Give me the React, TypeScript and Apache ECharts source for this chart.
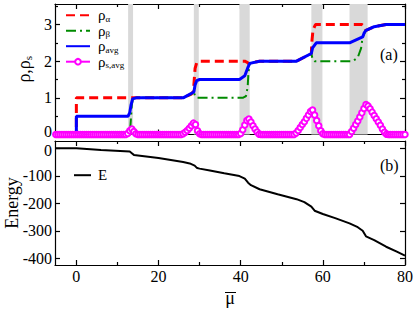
import React, { useEffect, useRef } from "react";
import * as echarts from "echarts";

const FONT = "'Liberation Serif', 'Times New Roman', 'DejaVu Serif', serif";

// tick positions
const X_MAJOR = [0, 20, 40, 60, 80];
const X_MINOR = [10, 30, 50, 70];
const RHO_TICKS = [0, 1, 2, 3];
const RHO_MINOR = [0.5, 1.5, 2.5, 3.5];
const E_TICKS = [0, -100, -200, -300, -400];

// shaded mu intervals (panel a)
const BANDS = [
  [12.6, 13.8],
  [28.6, 29.8],
  [39.7, 42.2],
  [57.2, 59.9],
  [66.5, 70.9],
];

// series: [mu, value]
const RHO_ALPHA = [
  [-5, 0], [0, 0], [0, 1], [26, 1], [28, 1.1], [28.5, 1.18], [28.7, 1.5], [28.9, 1.8], [29.3, 1.96], [29.8, 2],
  [41, 2], [41.6, 1.97], [42, 1.92], [42.5, 1.96], [44.6, 2], [53.6, 2], [57.2, 2.21], [57.3, 2.5],
  [57.6, 2.85], [58.2, 3], [69.5, 3], [70.1, 2.95], [70.5, 2.84], [72.5, 2.94], [75.4, 3], [80, 3],
];

const RHO_BETA = [
  [-5, 0], [13, 0], [13.2, 0.3], [13.5, 0.8], [13.8, 1], [26, 1], [28, 1.1], [28.6, 1.15], [28.9, 1.05],
  [29.4, 1], [40.5, 1], [41.3, 1.05], [41.7, 1.3], [41.9, 1.7], [42.2, 1.94], [44.6, 2], [53.6, 2],
  [57.2, 2.21], [57.5, 2.05], [58, 2], [67.3, 2], [68.5, 2.1], [69.3, 2.35], [69.7, 2.66], [70.5, 2.84],
  [72.5, 2.94], [75.4, 3], [80, 3],
];

const RHO_AVG = [
  [-5, 0], [0, 0], [0, 0.5], [12.6, 0.5], [13, 0.6], [13.3, 0.8], [13.7, 0.97], [14.5, 1], [26, 1],
  [28.6, 1.16], [28.9, 1.35], [29.3, 1.47], [30, 1.5], [39.7, 1.5], [41, 1.6], [41.8, 1.84], [42.2, 1.94],
  [44.6, 2], [53.6, 2], [57.2, 2.21], [57.5, 2.36], [58.4, 2.5], [66.5, 2.5], [69.7, 2.66], [70.1, 2.78],
  [70.5, 2.84], [72.5, 2.94], [75.4, 3], [80, 3],
];

const MU_S = [
  -5, -4.5, -4, -3.5, -3, -2.5, -2, -1.5, -1, -0.5, 0, 0.5, 1, 1.5, 2, 2.5, 3, 3.5, 4, 4.5, 5, 5.5, 6, 6.5, 7,
  7.5, 8, 8.5, 9, 9.5, 10, 10.5, 11, 11.5, 12,
  12.5, 13, 13.5, 14, 14.5, 15,
  15.5, 16, 16.5, 17, 17.5, 18, 18.5, 19, 19.5, 20, 20.5, 21, 21.5, 22, 22.5, 23, 23.5, 24, 24.5, 25, 25.5,
  26, 26.5, 27, 27.5, 28, 28.5, 29, 29.5, 30, 30.5,
  31, 31.5, 32, 32.5, 33, 33.5, 34, 34.5, 35, 35.5, 36, 36.5, 37, 37.5, 38, 38.5, 39, 39.5,
  40, 40.5, 41, 41.5, 42, 42.5, 43, 43.5, 44, 44.5, 45,
  45.5, 46, 46.5, 47, 47.5, 48, 48.5, 49, 49.5, 50, 50.5, 51, 51.5, 52, 52.5, 53,
  53.5, 54, 54.5, 55, 55.5, 56, 56.5, 57, 57.5, 58, 58.5, 59, 59.5, 60, 60.5,
  61, 61.5, 62, 62.5, 63, 63.5, 64, 64.5, 65, 65.5, 66, 66.5,
  67, 67.5, 68, 68.5, 69, 69.5, 70, 70.5, 71, 71.5, 72, 72.5, 73, 73.5, 74, 74.5, 75, 75.5, 76,
  76.5, 77, 77.5, 78, 78.5, 79, 79.5, 80,
];

const RHO_S = [
  0, 0, 0, 0, 0, 0, 0, 0, 0, 0, 0, 0, 0, 0, 0, 0, 0, 0, 0, 0, 0, 0, 0, 0, 0,
  0, 0, 0, 0, 0, 0, 0, 0, 0, 0,
  0.03, 0.1, 0.15, 0.08, 0.02, 0,
  0, 0, 0, 0, 0, 0, 0, 0, 0, 0, 0, 0, 0, 0, 0, 0, 0, 0, 0, 0, 0,
  0.02, 0.06, 0.11, 0.17, 0.24, 0.31, 0.27, 0.1, 0.02, 0,
  0, 0, 0, 0, 0, 0, 0, 0, 0, 0, 0, 0, 0, 0, 0, 0, 0, 0,
  0.03, 0.13, 0.26, 0.38, 0.42, 0.34, 0.24, 0.15, 0.07, 0.01, 0,
  0, 0, 0, 0, 0, 0, 0, 0, 0, 0, 0, 0, 0, 0, 0, 0,
  0.04, 0.11, 0.19, 0.27, 0.35, 0.44, 0.53, 0.63, 0.67, 0.53, 0.38, 0.24, 0.1, 0.02, 0,
  0, 0, 0, 0, 0, 0, 0, 0, 0, 0, 0, 0,
  0.08, 0.17, 0.27, 0.37, 0.48, 0.59, 0.71, 0.82, 0.78, 0.7, 0.61, 0.52, 0.43, 0.34, 0.25, 0.15, 0.06, 0.01, 0,
  0, 0, 0, 0, 0, 0, 0, 0,
];

const ENERGY = [
  [-5, 0], [0, 0], [6, -6], [13, -12], [13.5, -18], [14, -24], [20, -35], [26, -50], [27.6, -55],
  [28.8, -63], [29.4, -72], [30, -74], [32.5, -81], [36, -91], [39.7, -101], [41, -110], [41.8, -125],
  [42.5, -134], [44.6, -149], [49, -167], [53.6, -185], [55.5, -196], [57.2, -212], [58, -227], [60, -239],
  [63, -254], [66.5, -273], [68.5, -287], [69.7, -300], [70.5, -320], [72.5, -334], [75.4, -358],
  [78, -376], [80, -390],
];

const LEGEND_NAMES = ["ρα", "ρβ", "ρavg", "ρs,avg"];
const LEGEND_RICH: Record<string, string> = {
  "ρα": "{m|ρ}{s|α}",
  "ρβ": "{m|ρ}{s|β}",
  "ρavg": "{m|ρ}{s|avg}",
  "ρs,avg": "{m|ρ}{s|s,avg}",
};

const X_MIN = -5.2;
const X_MAX = 80;

const HIDDEN_SYMBOL = { color: "rgba(0,0,0,0)", borderColor: "rgba(0,0,0,0)", borderWidth: 0 };

function xAxisDef(gridIndex: number, position: string, ticks: number[], len: number, main: boolean, labels: boolean) {
  return {
    type: "value",
    gridIndex,
    position,
    min: X_MIN,
    max: X_MAX,
    axisLine: { show: main, onZero: false, lineStyle: { color: "#000", width: 1.2 } },
    axisTick: { show: true, inside: true, length: len, customValues: ticks, lineStyle: { color: "#000", width: 1.2 } },
    axisLabel: labels
      ? { show: true, customValues: ticks, margin: 4, color: "#000", fontFamily: FONT, fontSize: 16, lineHeight: 14 }
      : { show: false },
    splitLine: { show: false },
    ...(labels
      ? {
          name: "μ",
          nameLocation: "middle",
          nameGap: 26,
          nameMoveOverlap: false,
          nameTextStyle: { color: "#000", fontFamily: FONT, fontSize: 18, lineHeight: 14 },
        }
      : {}),
  };
}

function yAxisDef(
  gridIndex: number,
  position: string,
  min: number,
  max: number,
  ticks: number[],
  len: number,
  main: boolean,
  labels: boolean,
  zeroPad: number[] | null = null,
  extra: any = {}
) {
  return {
    type: "value",
    gridIndex,
    position,
    min,
    max,
    axisLine: { show: main, onZero: false, lineStyle: { color: "#000", width: 1.2 } },
    axisTick: { show: true, inside: true, length: len, customValues: ticks, lineStyle: { color: "#000", width: 1.2 } },
    axisLabel: labels
      ? {
          show: true,
          customValues: ticks,
          margin: 3,
          color: "#000",
          fontFamily: FONT,
          fontSize: 16,
          lineHeight: 13,
          formatter: (v: number) => (v === 0 && zeroPad ? "{z|0}" : String(v)),
          rich: {
            z: { fontFamily: FONT, fontSize: 16, lineHeight: 13, color: "#000", padding: zeroPad || [0, 0, 0, 0] },
          },
        }
      : { show: false },
    splitLine: { show: false },
    ...extra,
  };
}

export default function App() {
  const ref = useRef<HTMLDivElement>(null);

  useEffect(() => {
    if (!ref.current) return;
    const chart = echarts.init(ref.current, undefined, { renderer: "svg" });

    const option: any = {
      animation: false,
      backgroundColor: "#fff",
      grid: [
        { left: 55, right: 10, top: 4, height: 130.5, containLabel: false, outerBoundsMode: "none" },
        { left: 55, right: 10, top: 141, height: 124, containLabel: false, outerBoundsMode: "none" },
      ],
      xAxis: [
        xAxisDef(0, "bottom", X_MAJOR, 5, true, false),
        xAxisDef(0, "top", X_MAJOR, 5, true, false),
        xAxisDef(0, "bottom", X_MINOR, 3, false, false),
        xAxisDef(0, "top", X_MINOR, 3, false, false),
        xAxisDef(1, "bottom", X_MAJOR, 5, true, true),
        xAxisDef(1, "top", X_MAJOR, 5, true, false),
        xAxisDef(1, "bottom", X_MINOR, 3, false, false),
        xAxisDef(1, "top", X_MINOR, 3, false, false),
      ],
      yAxis: [
        yAxisDef(0, "left", 0, 3.56, RHO_TICKS, 5, true, true, [0, 0, 6, 0], {
          name: "{a|ρ,ρ}{b|s}",
          nameLocation: "middle",
          nameGap: 19,
          nameTextStyle: {
            color: "#000",
            rich: {
              a: { fontFamily: FONT, fontSize: 18, lineHeight: 18, color: "#000" },
              b: { fontFamily: FONT, fontSize: 11, lineHeight: 9, verticalAlign: "bottom", color: "#000" },
            },
          },
        }),
        yAxisDef(0, "right", 0, 3.56, RHO_TICKS, 5, true, false),
        yAxisDef(0, "left", 0, 3.56, RHO_MINOR, 3, false, false),
        yAxisDef(0, "right", 0, 3.56, RHO_MINOR, 3, false, false),
        yAxisDef(1, "left", -424.4, 26.5, E_TICKS, 5, true, true, [4, 0, 0, 0], {
          name: "Energy",
          nameLocation: "middle",
          nameGap: 35,
          nameMoveOverlap: false,
          nameTextStyle: { color: "#000", fontFamily: FONT, fontSize: 18, lineHeight: 17 },
        }),
        yAxisDef(1, "right", -424.4, 26.5, E_TICKS, 5, true, false),
      ],
      legend: [
        {
          data: [
            { name: LEGEND_NAMES[0], itemStyle: HIDDEN_SYMBOL },
            { name: LEGEND_NAMES[1], itemStyle: HIDDEN_SYMBOL },
            { name: LEGEND_NAMES[2], itemStyle: HIDDEN_SYMBOL },
            { name: LEGEND_NAMES[3] },
          ],
          orient: "vertical",
          left: 65,
          top: 7.7,
          padding: 0,
          itemWidth: 24,
          itemHeight: 7,
          itemGap: 0,
          selectedMode: false,
          formatter: (name: string) => LEGEND_RICH[name] || name,
          textStyle: {
            color: "#000",
            fontFamily: FONT,
            rich: {
              m: { fontFamily: FONT, fontSize: 15, lineHeight: 16, padding: [0, 0, 0, 3], color: "#000" },
              s: { fontFamily: FONT, fontSize: 9, lineHeight: 8, verticalAlign: "bottom", color: "#000" },
            },
          },
        },
        {
          data: [{ name: "E", itemStyle: HIDDEN_SYMBOL }],
          orient: "vertical",
          left: 73,
          top: 167.7,
          padding: 0,
          itemWidth: 17,
          itemHeight: 7,
          selectedMode: false,
          formatter: (name: string) => "{m|" + name + "}",
          textStyle: {
            color: "#000",
            rich: {
              m: { fontFamily: FONT, fontSize: 15, lineHeight: 16, padding: [0, 0, 0, 2], color: "#000" },
            },
          },
        },
      ],
      graphic: [
        {
          type: "text",
          x: 380,
          y: 54,
          style: { text: "(a)", fill: "#000", font: "16px " + FONT, textAlign: "left", textVerticalAlign: "middle" },
        },
        {
          type: "text",
          x: 380,
          y: 165,
          style: { text: "(b)", fill: "#000", font: "16px " + FONT, textAlign: "left", textVerticalAlign: "middle" },
        },
        {
          // overline of the mu-bar axis title
          type: "line",
          shape: { x1: 225, y1: 292.5, x2: 236, y2: 292.5 },
          style: { stroke: "#000", lineWidth: 1 },
          silent: true,
        },
      ],
      series: [
        {
          name: "bands",
          type: "line",
          xAxisIndex: 0,
          yAxisIndex: 0,
          data: [],
          z: 1,
          silent: true,
          markArea: {
            silent: true,
            itemStyle: { color: "#d9d9d9" },
            data: BANDS.map(([a, b]) => [{ xAxis: a }, { xAxis: b }]),
          },
        },
        {
          name: "ρα",
          type: "line",
          xAxisIndex: 0,
          yAxisIndex: 0,
          data: RHO_ALPHA,
          symbol: "none",
          z: 3,
          lineStyle: { color: "#ff0000", width: 3, type: [9, 5] },
          itemStyle: { color: "#ff0000" },
        },
        {
          name: "ρβ",
          type: "line",
          xAxisIndex: 0,
          yAxisIndex: 0,
          data: RHO_BETA,
          symbol: "none",
          z: 4,
          lineStyle: { color: "#008b00", width: 2, type: [10, 4, 2, 4] },
          itemStyle: { color: "#008b00" },
        },
        {
          name: "ρavg",
          type: "line",
          xAxisIndex: 0,
          yAxisIndex: 0,
          data: RHO_AVG,
          symbol: "none",
          z: 5,
          lineStyle: { color: "#0000ff", width: 3 },
          itemStyle: { color: "#0000ff" },
        },
        {
          name: "ρs,avg",
          type: "line",
          xAxisIndex: 0,
          yAxisIndex: 0,
          data: MU_S.map((m, i) => [m, RHO_S[i]]),
          symbol: "emptyCircle",
          symbolSize: 5.5,
          showSymbol: true,
          clip: false,
          z: 6,
          lineStyle: { color: "#ff00ff", width: 1 },
          itemStyle: { color: "#ff00ff", borderWidth: 1.2 },
        },
        {
          name: "E",
          type: "line",
          xAxisIndex: 4,
          yAxisIndex: 4,
          data: ENERGY,
          symbol: "none",
          z: 3,
          lineStyle: { color: "#000", width: 2 },
          itemStyle: { color: "#000" },
        },
      ],
    };

    chart.setOption(option);
    return () => {
      chart.dispose();
    };
  }, []);

  return (
    <div
      ref={ref}
      style={{ position: "fixed", left: 0, top: 0, width: 415, height: 311, background: "#fff" }}
    />
  );
}
